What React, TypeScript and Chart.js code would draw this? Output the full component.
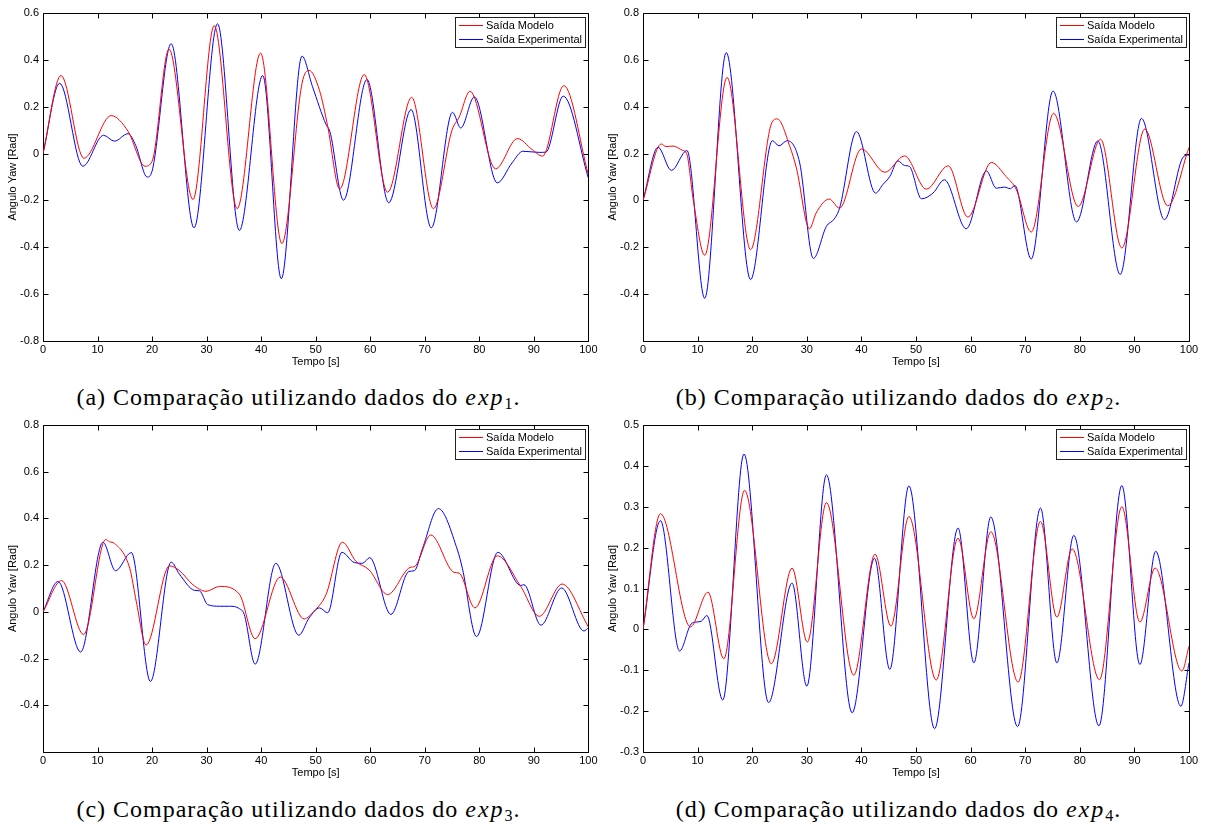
import React, { useEffect, useRef } from "react";
import { Chart, registerables } from "chart.js";

Chart.register(...registerables);

const SANS = '"Liberation Sans", Arial, Helvetica, sans-serif';
const SERIF = '"Liberation Serif", "Times New Roman", Times, serif';

const LABEL_MODEL = "Saída Modelo";
const LABEL_EXP = "Saída Experimental";
const X_TITLE = "Tempo [s]";
const Y_TITLE = "Angulo Yaw [Rad]";
const X_TICKS = [0, 10, 20, 30, 40, 50, 60, 70, 80, 90, 100];

// ---------- (a) exp1 ----------
const A_MODEL_T = [0, 3.3, 7.5, 12.5, 15.6, 18.7, 20.0, 23.1, 27.5, 31.4, 35.6, 39.9, 43.8, 47.5, 48.8, 50.7, 52.2, 54.4, 58.9, 63.2, 67.6, 71.6, 75.0, 76.3, 78.3, 83.0, 87.0, 89.7, 91.6, 95.5, 100];
const A_MODEL_Y = [0, 0.333, -0.02, 0.162, 0.095, -0.054, -0.033, 0.446, -0.196, 0.546, -0.235, 0.429, -0.384, 0.3, 0.355, 0.27, 0.117, -0.151, 0.337, -0.165, 0.24, -0.235, 0.1, 0.155, 0.266, -0.065, 0.064, 0.017, -0.011, 0.29, -0.09];
const A_EXP_T = [0, 3.05, 7.3, 11.1, 13.1, 15.6, 17.0, 19.1, 20.0, 23.5, 27.7, 32.0, 36.0, 40.3, 43.7, 47.5, 49.4, 51.9, 52.6, 55.1, 59.4, 63.4, 67.5, 71.2, 75.1, 76.6, 79.1, 83.3, 86.0, 88.0, 91.0, 92.2, 95.4, 100];
const A_EXP_Y = [0, 0.3, -0.054, 0.078, 0.053, 0.085, 0.035, -0.1, -0.075, 0.469, -0.317, 0.554, -0.328, 0.333, -0.534, 0.416, 0.287, 0.124, 0.095, -0.199, 0.316, -0.21, 0.188, -0.317, 0.176, 0.109, 0.242, -0.125, -0.04, 0.01, 0.005, 0.006, 0.245, -0.104];

// ---------- (b) exp2 ----------
const B_MODEL_T = [0, 3.35, 4.2, 5.5, 7.3, 8.0, 9.2, 11.3, 15.4, 19.7, 23.5, 24.6, 26.9, 28.1, 30.5, 31.7, 34.1, 36.0, 40.0, 44.3, 47.9, 51.9, 55.9, 59.5, 63.8, 66.5, 68.4, 71.1, 75.2, 79.7, 83.8, 87.7, 91.9, 96.1, 100];
const B_MODEL_Y = [0, 0.241, 0.23, 0.232, 0.213, 0.2, 0.003, -0.234, 0.525, -0.21, 0.326, 0.348, 0.23, 0.138, -0.121, -0.054, 0.006, -0.033, 0.22, 0.12, 0.19, 0.048, 0.148, -0.071, 0.162, 0.102, 0.045, -0.135, 0.372, -0.026, 0.261, -0.203, 0.305, -0.023, 0.226];
const B_EXP_T = [0, 2.75, 5.2, 8.05, 11.3, 15.25, 19.7, 23.7, 24.9, 26.4, 28.7, 31.2, 33.6, 35.0, 36.0, 39.1, 42.6, 43.9, 45.2, 46.7, 47.9, 48.8, 51.0, 53.1, 55.2, 59.2, 62.9, 64.7, 66.2, 67.3, 68.1, 71.1, 75.1, 79.4, 83.3, 87.4, 91.3, 95.5, 99.0, 100];
const B_EXP_Y = [0, 0.227, 0.128, 0.213, -0.418, 0.631, -0.338, 0.255, 0.233, 0.255, 0.16, -0.248, -0.11, -0.08, -0.033, 0.294, 0.031, 0.067, 0.102, 0.169, 0.149, 0.145, 0.007, 0.031, 0.088, -0.121, 0.126, 0.052, 0.057, 0.05, 0.064, -0.25, 0.467, -0.092, 0.254, -0.316, 0.35, -0.082, 0.187, 0.194];

// ---------- (c) exp3 ----------
const C_MODEL_T = [0, 3.4, 7.45, 11.5, 12.2, 13.1, 15.9, 17.1, 18.9, 23.2, 25.0, 27.5, 29.9, 32.4, 36.0, 38.9, 43.5, 47.9, 49.7, 51.9, 54.9, 57.4, 59.8, 63.2, 67.3, 68.2, 71.1, 75.4, 76.3, 79.2, 83.3, 87.6, 91.0, 95.2, 100];
const C_MODEL_Y = [0, 0.134, -0.097, 0.31, 0.3, 0.293, 0.187, 0.045, -0.142, 0.197, 0.177, 0.116, 0.088, 0.109, 0.076, -0.115, 0.149, -0.03, 0.003, 0.074, 0.298, 0.216, 0.18, 0.074, 0.19, 0.195, 0.329, 0.169, 0.166, 0.017, 0.24, 0.109, -0.019, 0.119, -0.064];
const C_EXP_T = [0, 2.75, 6.9, 11.0, 13.3, 16.2, 19.7, 23.5, 25.0, 27.8, 28.7, 30.2, 32.4, 34.2, 36.0, 36.9, 38.9, 42.7, 46.9, 48.8, 50.7, 52.2, 54.8, 57.1, 58.6, 59.9, 63.8, 67.1, 68.1, 69.6, 72.5, 76.0, 76.9, 79.5, 83.4, 87.6, 88.2, 91.3, 95.1, 99.2, 100];
const C_EXP_Y = [0, 0.13, -0.172, 0.298, 0.176, 0.254, -0.298, 0.213, 0.162, 0.092, 0.09, 0.031, 0.024, 0.024, 0.014, -0.011, -0.224, 0.208, -0.1, -0.026, 0.017, -0.004, 0.255, 0.211, 0.208, 0.232, -0.011, 0.173, 0.176, 0.272, 0.442, 0.265, 0.187, -0.106, 0.255, 0.113, 0.116, -0.057, 0.102, -0.082, -0.068];

// ---------- (d) exp4 ----------
const D_MODEL_T = [0, 3.2, 8.7, 11.9, 14.8, 18.6, 23.5, 27.3, 30.1, 33.6, 38.6, 42.5, 45.4, 48.7, 53.7, 57.7, 60.6, 63.7, 68.7, 72.8, 75.8, 78.6, 83.6, 87.7, 91.0, 93.8, 98.7, 100];
const D_MODEL_Y = [0, 0.283, 0.006, 0.091, -0.072, 0.34, -0.084, 0.15, -0.031, 0.31, -0.112, 0.184, 0.008, 0.276, -0.124, 0.223, 0.026, 0.239, -0.129, 0.264, 0.03, 0.197, -0.123, 0.3, 0.018, 0.15, -0.102, -0.041];
const D_EXP_T = [0, 3.2, 6.7, 8.8, 9.8, 10.7, 11.7, 14.6, 18.5, 23.0, 27.3, 30.0, 33.6, 38.3, 42.4, 45.2, 48.7, 53.4, 57.7, 60.6, 63.7, 68.6, 72.8, 75.8, 78.9, 83.5, 87.7, 91.0, 93.9, 98.5, 100];
const D_EXP_Y = [0, 0.266, -0.053, 0.013, 0.018, 0.02, 0.034, -0.173, 0.429, -0.179, 0.113, -0.139, 0.378, -0.204, 0.174, -0.098, 0.351, -0.243, 0.248, -0.082, 0.275, -0.238, 0.297, -0.082, 0.23, -0.236, 0.352, -0.086, 0.191, -0.188, -0.082];

const X_AXIS_H = 28;

type Box = { left: number; top: number; w: number; h: number };
type Plot = { l: number; t: number; r: number; b: number };
type Spec = {
  canvas: Box;
  plot: Plot;
  yMin: number;
  yMax: number;
  yStep: number;
  hideY: number[];
  modelT: number[];
  modelY: number[];
  expT: number[];
  expY: number[];
};

const SPECS: Spec[] = [
  { canvas: { left: 0, top: 0, w: 600, h: 375 }, plot: { l: 43, t: 13, r: 589, b: 341 }, yMin: -0.8, yMax: 0.6, yStep: 0.2, hideY: [], modelT: A_MODEL_T, modelY: A_MODEL_Y, expT: A_EXP_T, expY: A_EXP_Y },
  { canvas: { left: 600, top: 0, w: 605, h: 375 }, plot: { l: 643, t: 13, r: 1189, b: 341 }, yMin: -0.6, yMax: 0.8, yStep: 0.2, hideY: [-0.6], modelT: B_MODEL_T, modelY: B_MODEL_Y, expT: B_EXP_T, expY: B_EXP_Y },
  { canvas: { left: 0, top: 412, w: 600, h: 375 }, plot: { l: 43, t: 425, r: 589, b: 752 }, yMin: -0.6, yMax: 0.8, yStep: 0.2, hideY: [-0.6], modelT: C_MODEL_T, modelY: C_MODEL_Y, expT: C_EXP_T, expY: C_EXP_Y },
  { canvas: { left: 600, top: 412, w: 605, h: 375 }, plot: { l: 643, t: 425, r: 1189, b: 752 }, yMin: -0.3, yMax: 0.5, yStep: 0.1, hideY: [], modelT: D_MODEL_T, modelY: D_MODEL_Y, expT: D_EXP_T, expY: D_EXP_Y },
];

const CAPTIONS = [
  { letter: "a", sub: "1", cx: 298.5, top: 386 },
  { letter: "b", sub: "2", cx: 898.5, top: 386 },
  { letter: "c", sub: "3", cx: 298.5, top: 798 },
  { letter: "d", sub: "4", cx: 898.5, top: 798 },
];

const matlabPlugin = {
  id: "matlabFrame",
  beforeDatasetsDraw(chart: any) {
    const { ctx, chartArea: a, scales } = chart;
    const L = Math.round(a.left) + 0.5;
    const R = Math.round(a.right) + 0.5;
    const T = Math.round(a.top) + 0.5;
    const B = Math.round(a.bottom) + 0.5;
    const tl = 5;
    ctx.save();
    ctx.strokeStyle = "#000";
    ctx.lineWidth = 1;
    ctx.beginPath();
    ctx.rect(L, T, R - L, B - T);
    for (const tk of scales.x.ticks) {
      const px = Math.round(scales.x.getPixelForValue(tk.value)) + 0.5;
      ctx.moveTo(px, B);
      ctx.lineTo(px, B - tl);
      ctx.moveTo(px, T);
      ctx.lineTo(px, T + tl);
    }
    for (const tk of scales.y.ticks) {
      const py = Math.round(scales.y.getPixelForValue(tk.value)) + 0.5;
      ctx.moveTo(L, py);
      ctx.lineTo(L + tl, py);
      ctx.moveTo(R, py);
      ctx.lineTo(R - tl, py);
    }
    ctx.stroke();
    ctx.restore();
  },
  afterDatasetsDraw(chart: any) {
    const { ctx, chartArea: a } = chart;
    const bw = 130;
    const bh = 30;
    const bx = Math.round(a.right) - 3 - bw;
    const by = Math.round(a.top) + 4;
    ctx.save();
    ctx.fillStyle = "#fff";
    ctx.fillRect(bx, by, bw, bh);
    ctx.strokeStyle = "#222";
    ctx.lineWidth = 1;
    ctx.strokeRect(bx + 0.5, by + 0.5, bw, bh);
    ctx.font = `11px ${SANS}`;
    ctx.textBaseline = "middle";
    ctx.textAlign = "left";
    chart.data.datasets.forEach((ds: any, i: number) => {
      const y = by + 8.5 + i * 14;
      ctx.strokeStyle = ds.borderColor;
      ctx.beginPath();
      ctx.moveTo(bx + 4, y);
      ctx.lineTo(bx + 28, y);
      ctx.stroke();
      ctx.fillStyle = "#000";
      ctx.fillText(ds.label, bx + 31, y + 0.5);
    });
    ctx.restore();
  },
};

function Panel({ spec }: { spec: Spec }) {
  const ref = useRef<HTMLCanvasElement>(null);
  useEffect(() => {
    const { canvas: c, plot: p } = spec;
    const pad = {
      left: 0,
      top: p.t - c.top,
      right: c.left + c.w - p.r,
      bottom: c.top + c.h - p.b - X_AXIS_H,
    };
    const yW = p.l - c.left;
    const font = { family: SANS, size: 11 };
    const chart = new Chart(ref.current as HTMLCanvasElement, {
      type: "line",
      data: {
        datasets: [
          {
            label: LABEL_MODEL,
            data: spec.modelT.map((t, i) => ({ x: t, y: spec.modelY[i] })),
            borderColor: "#ff0000",
            borderWidth: 1,
            pointRadius: 0,
            fill: false,
            cubicInterpolationMode: "monotone",
          },
          {
            label: LABEL_EXP,
            data: spec.expT.map((t, i) => ({ x: t, y: spec.expY[i] })),
            borderColor: "#0000ff",
            borderWidth: 1,
            pointRadius: 0,
            fill: false,
            cubicInterpolationMode: "monotone",
          },
        ],
      },
      options: {
        responsive: false,
        animation: false,
        devicePixelRatio: 1,
        events: [],
        layout: { padding: pad },
        plugins: { legend: { display: false }, tooltip: { enabled: false } },
        scales: {
          x: {
            type: "linear",
            min: 0,
            max: 100,
            position: "bottom",
            afterBuildTicks: (s: any) => {
              s.ticks = X_TICKS.map((v) => ({ value: v }));
            },
            ticks: {
              color: "#000",
              font,
              padding: 2.5,
              maxRotation: 0,
              autoSkip: false,
              callback: (v: any) => String(v),
            },
            grid: { display: false, drawTicks: false },
            border: { display: false },
            title: { display: true, text: X_TITLE, color: "#000", font, padding: { top: 0, bottom: 0 } },
            afterFit: (s: any) => {
              s.height = X_AXIS_H;
            },
          },
          y: {
            type: "linear",
            min: spec.yMin,
            max: spec.yMax,
            ticks: {
              stepSize: spec.yStep,
              color: "#000",
              font,
              padding: 4,
              autoSkip: false,
              callback: (v: any) => {
                const r = Math.round(Number(v) * 100) / 100;
                if (spec.hideY.some((h) => Math.abs(h - r) < 1e-6)) return "";
                return String(r);
              },
            },
            grid: { display: false, drawTicks: false },
            border: { display: false },
            title: { display: true, text: Y_TITLE, color: "#000", font, padding: { top: 6, bottom: 0 } },
            afterFit: (s: any) => {
              s.width = yW;
            },
          },
        },
      } as any,
      plugins: [matlabPlugin],
    });
    return () => chart.destroy();
  }, [spec]);
  const c = spec.canvas;
  return (
    <canvas
      ref={ref}
      width={c.w}
      height={c.h}
      style={{ position: "absolute", left: c.left, top: c.top, width: c.w, height: c.h }}
    />
  );
}

export default function App() {
  return (
    <div style={{ position: "absolute", left: 0, top: 0, width: 1205, height: 830, background: "#fff", overflow: "hidden" }}>
      {SPECS.map((s, i) => (
        <Panel key={i} spec={s} />
      ))}
      {CAPTIONS.map((cap) => (
        <div
          key={cap.letter}
          style={{
            position: "absolute",
            left: cap.cx - 300,
            width: 600,
            top: cap.top,
            textAlign: "center",
            fontFamily: SERIF,
            fontSize: 24,
            letterSpacing: 1,
            lineHeight: "22px",
            color: "#000",
            whiteSpace: "nowrap",
          }}
        >
          ({cap.letter}) Comparação utilizando dados do{" "}
          <span style={{ fontStyle: "italic", letterSpacing: 2 }}>exp</span>
          <span style={{ fontSize: 16, position: "relative", top: 4 }}>{cap.sub}</span>.
        </div>
      ))}
    </div>
  );
}
